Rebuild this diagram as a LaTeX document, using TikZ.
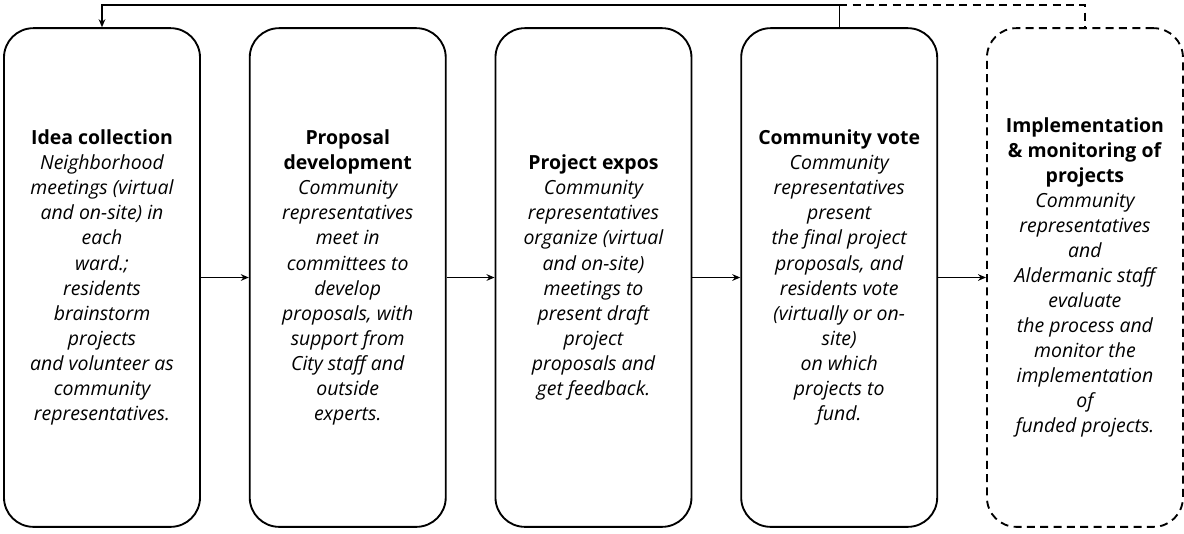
\documentclass[tikz,border=0pt]{standalone}
\usepackage{fontspec}
\setmainfont{Open Sans}
\usepackage{tikz}
\usetikzlibrary{arrows.meta,positioning}

\tikzset{
    stagebox/.style={
        draw=black,
        line width=1.4pt,
        rounded corners=22pt,
        minimum width=147pt,
        minimum height=374pt,
        align=center,
        inner sep=2pt,
        font=\fontsize{14.6}{18.8}\selectfont
    },
    laterbox/.style={
        stagebox,
        dash pattern=on 6pt off 4pt
    },
    flow/.style={
        -{Stealth[length=6pt,width=5pt]},
        line width=1pt
    }
}

\begin{document}
\begin{tikzpicture}[x=0.75pt, y=-0.75pt, node distance=35.9pt]

\useasboundingbox (0,0) rectangle (1184,533);

% ---------------- STAGES ----------------

\node[stagebox] (idea) at (102,277.5) {%
    \textbf{Idea collection}\\
    \itshape Neighborhood\\
    \itshape meetings (virtual\\
    \itshape and on-site) in\\
    \itshape each\\
    \itshape ward.;\\
    \itshape residents\\
    \itshape brainstorm\\
    \itshape projects\\
    \itshape and volunteer as\\
    \itshape community\\
    \itshape representatives.};

\node[stagebox, right=of idea] (proposal) {%
    \textbf{Proposal}\\
    \textbf{development}\\
    \itshape Community\\
    \itshape representatives\\
    \itshape meet in\\
    \itshape committees to\\
    \itshape develop\\
    \itshape proposals, with\\
    \itshape support from\\
    \itshape City staff and\\
    \itshape outside\\
    \itshape experts.};

\node[stagebox, right=of proposal] (expos) {%
    \textbf{Project expos}\\
    \itshape Community\\
    \itshape representatives\\
    \itshape organize (virtual\\
    \itshape and on-site)\\
    \itshape meetings to\\
    \itshape present draft\\
    \itshape project\\
    \itshape proposals and\\
    \itshape get feedback.};

\node[stagebox, right=of expos] (vote) {%
    \textbf{Community vote}\\
    \itshape Community\\
    \itshape representatives\\
    \itshape present\\
    \itshape the final project\\
    \itshape proposals, and\\
    \itshape residents vote\\
    \itshape (virtually or on-\\
    \itshape site)\\
    \itshape on which\\
    \itshape projects to\\
    \itshape fund.};

% Last stage, dashed
\node[laterbox, right=of vote] (impl) {%
    \textbf{Implementation}\\
    \textbf{\& monitoring of}\\
    \textbf{projects}\\
    \itshape Community\\
    \itshape representatives\\
    \itshape and\\
    \itshape Aldermanic staff\\
    \itshape evaluate\\
    \itshape the process and\\
    \itshape monitor the\\
    \itshape implementation\\
    \itshape of\\
    \itshape funded projects.};

% ---------------- CONNECTORS ----------------

\draw[flow] (idea) -- (proposal);
\draw[flow] (proposal) -- (expos);
\draw[flow] (expos) -- (vote);
\draw[flow] (vote) -- (impl);

% Loop back to the start
\coordinate (loop) at (0,5);

\draw[flow] (vote.north) |- (loop -| idea.north) -- (idea.north);

\draw[
    line width=1pt,
    dash pattern=on 6pt off 4pt
] (vote.north |- loop) -| (impl.north);

\end{tikzpicture}
\end{document}
